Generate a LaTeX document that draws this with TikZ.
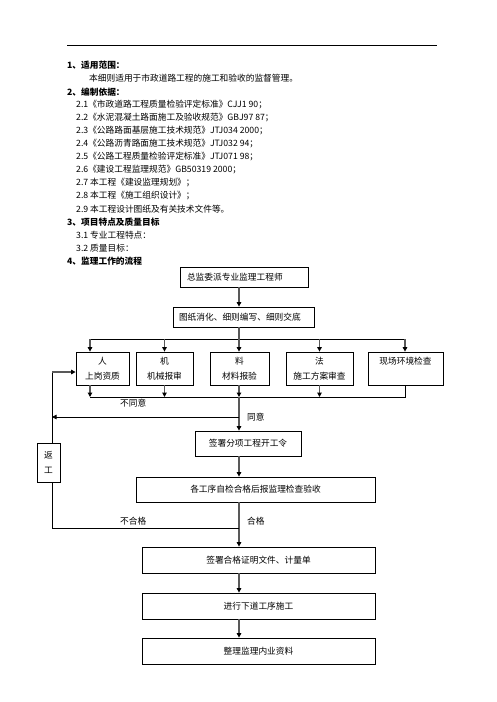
\documentclass[tikz,border=0pt]{standalone}
\usepackage{fontspec}
\newfontfamily\cjk{Noto Sans CJK SC}
\usetikzlibrary{arrows.meta}

\tikzset{
  txt/.style={anchor=west, inner sep=0pt},
  head/.style={txt, font=\cjk\bfseries\fontsize{8.7}{10}\selectfont},
  box/.style={draw, line width=0.8pt, inner sep=0pt, align=center},
  duo/.style={font=\cjk\fontsize{8.7}{15}\selectfont},
  line/.style={draw, line width=0.8pt},
  flow/.style={draw=gray!70!black, line width=1.6pt, -{Triangle[length=4.5pt, width=4.5pt, color=black]}},
  back/.style={line, -{Triangle[length=4.5pt, width=4.5pt]}}
}

\begin{document}
\begin{tikzpicture}[x=1pt, y=-1pt, every node/.style={font=\cjk\fontsize{8.7}{10}\selectfont}]

  \useasboundingbox (0,0) rectangle (496,702);

  % --- header rule and text ---
  \draw[line width=0.8pt] (67,45) -- (437,45);

  \node[head] (h1) at (67,65) {1、适用范围：};
  \node[txt]  (s1) at (89,78) {本细则适用于市政道路工程的施工和验收的监督管理。};
  \node[head] (h2) at (67,92) {2、编制依据：};
  \node[txt] (r1) at (76,105) {2.1《市政道路工程质量检验评定标准》CJJ1 90；};
  \node[txt] (r2) at (76,118) {2.2《水泥混凝土路面施工及验收规范》GBJ97 87；};
  \node[txt] (r3) at (76,131) {2.3《公路路面基层施工技术规范》JTJ034 2000；};
  \node[txt] (r4) at (76,144) {2.4《公路沥青路面施工技术规范》JTJ032 94；};
  \node[txt] (r5) at (76,157) {2.5《公路工程质量检验评定标准》JTJ071 98；};
  \node[txt] (r6) at (76,170) {2.6《建设工程监理规范》GB50319 2000；};
  \node[txt] (r7) at (76,183) {2.7 本工程《建设监理规划》；};
  \node[txt] (r8) at (76,196) {2.8 本工程《施工组织设计》；};
  \node[txt] (r9) at (76,209) {2.9 本工程设计图纸及有关技术文件等。};
  \node[head] (h3) at (67,222) {3、项目特点及质量目标};
  \node[txt] (p1) at (76,235) {3.1 专业工程特点：};
  \node[txt] (p2) at (76,248) {3.2 质量目标：};
  \node[head] (h4) at (67,261) {4、监理工作的流程};

  % --- flow boxes ---
  \coordinate (spine) at (239,0);
  \node[box, minimum height=20pt, text width=114pt, inner xsep=7pt, align=left] (boss) at (244,277) {总监委派专业监理工程师};
  \node[box, minimum height=20pt, text width=129pt, inner xsep=6pt, align=left] (plan) at (243.5,317) {图纸消化、细则编写、细则交底};

  \node[box, duo, minimum width=53pt, minimum height=33pt] (ren)  at (102.5,368.5) {人\\上岗资质};
  \node[box, duo, minimum width=57pt, minimum height=33pt] (ji)   at (164.5,368.5) {机\\机械报审};
  \node[box, duo, minimum width=59pt, minimum height=33pt] (liao) at (239.5,368.5) {料\\材料报验};
  \node[box, duo, minimum width=67pt, minimum height=33pt] (fa)   at (319.5,368.5) {法\\施工方案审查};
  \node[box, duo, minimum width=75pt, minimum height=33pt] (site) at (405.5,368.5) {现场环境检查\\\phantom{检}};

  \node[box, minimum width=106pt, minimum height=25pt] (start) at (248,443.5) {签署分项工程开工令};
  \node[box, minimum width=239pt, minimum height=25pt] (self)  at (255.5,489.5) {各工序自检合格后报监理检查验收};
  \node[box, minimum width=233pt, minimum height=26pt] (cert)  at (258.5,560) {签署合格证明文件、计量单};
  \node[box, minimum width=233pt, minimum height=26pt] (next)  at (258.5,606) {进行下道工序施工};
  \node[box, minimum width=233pt, minimum height=26pt] (arch)  at (258.5,651) {整理监理内业资料};
  \node[box, duo, minimum width=23pt, minimum height=39pt] (redo) at (48.5,462.5) {返\\工};

  % --- top distribution ---
  \coordinate (busTL) at (90,339);
  \coordinate (busTR) at (405,339);
  \draw[flow] (boss.south -| spine) -- (plan.north -| spine);
  \draw[line width=1.6pt, gray!70!black] (plan.south -| spine) -- (busTL -| spine);
  \draw[line] (busTL) -- (busTR);
  \draw[flow] (busTL) -- (busTL |- ren.north);
  \draw[flow] (ji.north |- busTL) -- (ji.north);
  \draw[flow] (busTL -| spine) -- (ren.north -| spine);
  \draw[flow] (fa.north |- busTL) -- (fa.north);
  \draw[flow] (busTR) -- (busTR |- site.north);

  % --- bottom collection ---
  \coordinate (busBL) at (90,397);
  \coordinate (busBR) at (405,397);
  \draw[flow] (ren.south -| busBL) -- (busBL);
  \draw[flow] (ji.south) -- (ji.south |- busBL);
  \draw[flow] (ren.south -| spine) -- (busBL -| spine);
  \draw[flow] (fa.south) -- (fa.south |- busBL);
  \draw[line] (site.south -| busBR) -- (busBR) -- (busBL);
  \node[anchor=north west, inner sep=0pt] (no) at (120,399) {不同意};

  % --- agree / disagree ---
  \coordinate (nogo) at (239,417);
  \coordinate (retn) at (52,372);
  \draw[flow] (busBL -| spine) -- (start.north -| spine);
  \node[anchor=west, inner sep=0pt] (yes) at (247,417) {同意};
  \draw[back] (nogo) -- (nogo -| retn);
  \draw[line] (redo.north -| retn) -- (retn);
  \draw[flow] (retn) -- (retn -| ren.west);

  % --- inspection ---
  \draw[flow] (start.south -| spine) -- (self.north -| spine);
  \draw[flow] (self.south -| spine) -- (cert.north -| spine);
  \coordinate (fail) at (239,528);
  \draw[line] (fail) -- (fail -| retn) -- (redo.south -| retn);
  \node[anchor=west, inner sep=0pt] (bad) at (120,521) {不合格};
  \node[anchor=west, inner sep=0pt] (ok)  at (247,521) {合格};

  \draw[flow] (cert.south -| spine) -- (next.north -| spine);
  \draw[flow] (next.south -| spine) -- (arch.north -| spine);

\end{tikzpicture}
\end{document}
